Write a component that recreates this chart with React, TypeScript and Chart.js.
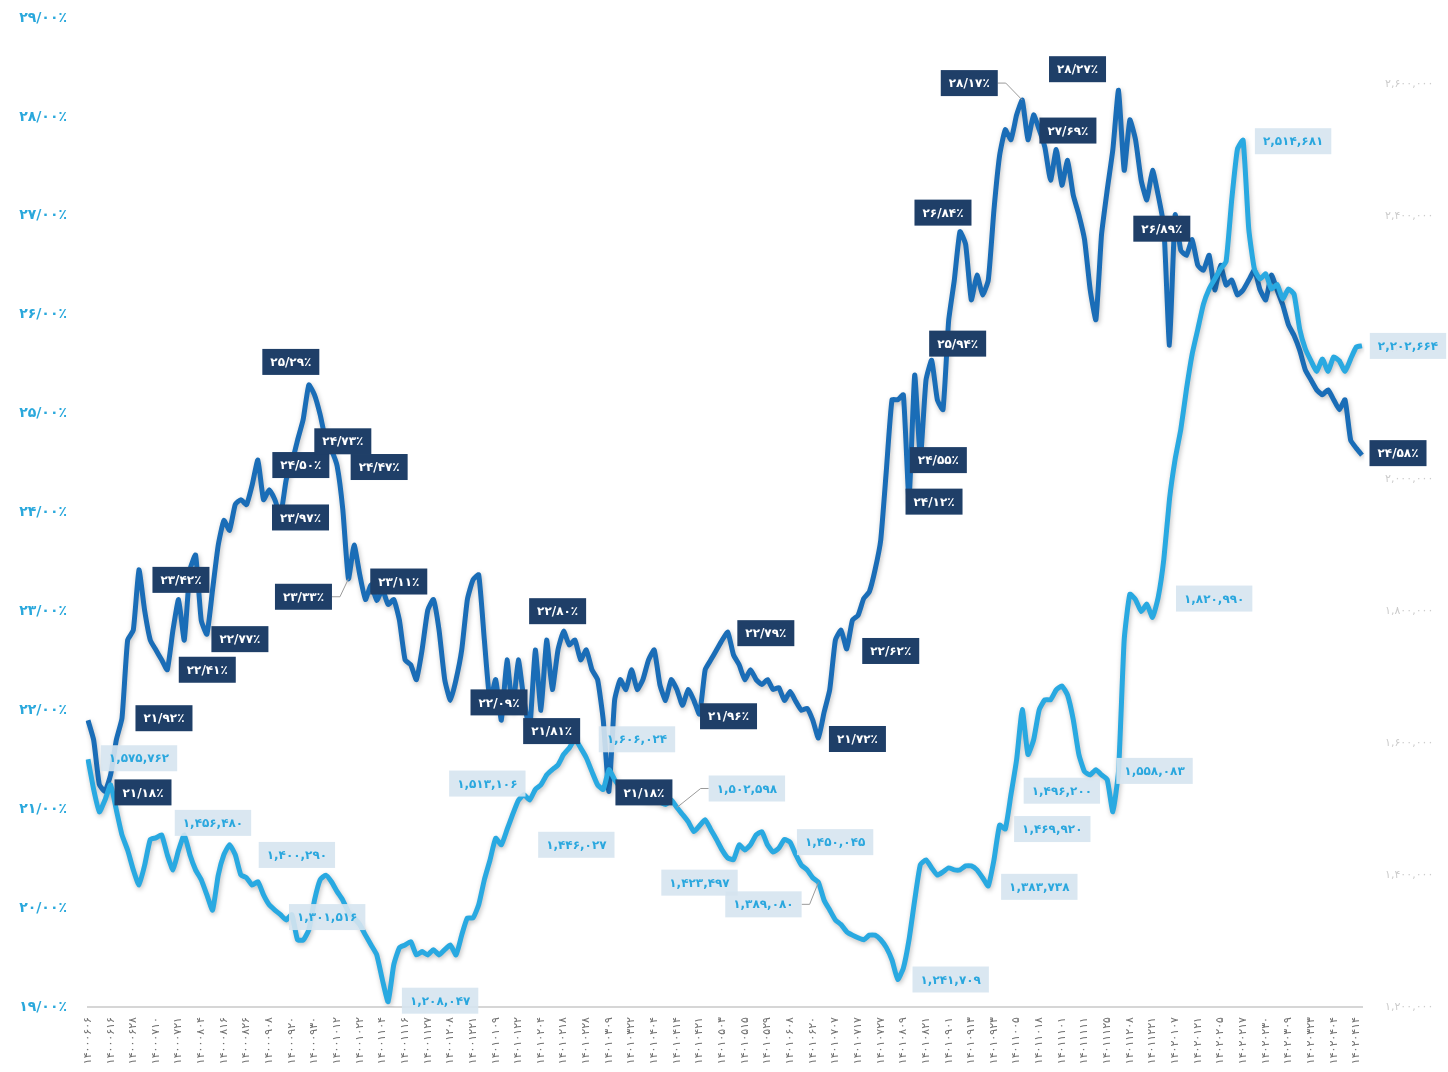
import React, { useEffect, useRef } from 'react';
import { Chart, registerables } from 'chart.js';
Chart.register(...registerables);

const tickDates: string[] = [
  '۱۴۰۰۰۶۰۶','۱۴۰۰۰۶۱۶','۱۴۰۰۰۶۲۸','۱۴۰۰۰۷۱۰','۱۴۰۰۰۷۲۱','۱۴۰۰۰۸۰۴','۱۴۰۰۰۸۱۶','۱۴۰۰۰۸۲۶','۱۴۰۰۰۹۰۸','۱۴۰۰۰۹۲۰',
  '۱۴۰۰۰۹۳۰','۱۴۰۰۱۰۱۲','۱۴۰۰۱۰۲۲','۱۴۰۰۱۱۰۴','۱۴۰۰۱۱۱۶','۱۴۰۰۱۱۲۷','۱۴۰۰۱۲۰۸','۱۴۰۰۱۲۲۱','۱۴۰۱۰۱۰۹','۱۴۰۱۰۱۲۲',
  '۱۴۰۱۰۲۰۴','۱۴۰۱۰۲۱۸','۱۴۰۱۰۲۲۸','۱۴۰۱۰۳۰۹','۱۴۰۱۰۳۲۲','۱۴۰۱۰۴۰۴','۱۴۰۱۰۴۱۴','۱۴۰۱۰۴۲۱','۱۴۰۱۰۵۰۳','۱۴۰۱۰۵۱۵',
  '۱۴۰۱۰۵۲۹','۱۴۰۱۰۶۰۸','۱۴۰۱۰۶۲۰','۱۴۰۱۰۷۰۷','۱۴۰۱۰۷۱۷','۱۴۰۱۰۷۲۷','۱۴۰۱۰۸۰۹','۱۴۰۱۰۸۲۱','۱۴۰۱۰۹۰۱',
  '۱۴۰۱۰۹۱۳','۱۴۰۱۰۹۲۳','۱۴۰۱۱۰۰۵','۱۴۰۱۱۰۱۸','۱۴۰۱۱۱۰۱','۱۴۰۱۱۱۱۱','۱۴۰۱۱۱۲۵','۱۴۰۱۱۲۰۸','۱۴۰۱۱۲۲۱',
  '۱۴۰۲۰۱۰۷','۱۴۰۲۰۱۲۱','۱۴۰۲۰۲۰۵','۱۴۰۲۰۲۱۷','۱۴۰۲۰۲۳۰','۱۴۰۲۰۳۰۹','۱۴۰۲۰۳۲۳','۱۴۰۲۰۴۰۴','۱۴۰۲۰۴۱۴'
];
const POINTS_PER_TICK = 4;

const leftTicks: number[] = [19, 20, 21, 22, 23, 24, 25, 26, 27, 28, 29];
const rightTicks: number[] = [1200000, 1400000, 1600000, 1800000, 2000000, 2200000, 2400000, 2600000];

// percentage series (left axis)
const pctSeries: number[] = [
  21.90,21.70,21.25,21.18,21.35,21.70,21.92,22.71,22.81,23.42,
  23.01,22.71,22.61,22.51,22.41,22.81,23.12,22.71,23.42,23.57,
  22.91,22.77,23.22,23.67,23.92,23.82,24.08,24.13,24.08,24.28,
  24.53,24.13,24.23,24.13,23.97,24.33,24.50,24.73,24.94,25.29,
  25.19,24.99,24.73,24.63,24.47,24.03,23.33,23.67,23.37,23.12,
  23.27,23.11,23.22,23.07,23.12,22.91,22.51,22.46,22.31,22.61,
  23.01,23.12,22.81,22.31,22.10,22.31,22.61,23.12,23.32,23.37,
  22.71,22.09,22.31,21.90,22.51,22.00,22.51,22.10,21.81,22.61,
  22.00,22.71,22.21,22.61,22.80,22.66,22.71,22.51,22.61,22.41,
  22.31,21.90,21.18,22.10,22.31,22.21,22.41,22.21,22.31,22.51,
  22.61,22.26,22.10,22.31,22.21,22.05,22.21,22.10,21.96,22.41,
  22.51,22.61,22.71,22.79,22.56,22.46,22.31,22.41,22.31,22.26,
  22.31,22.21,22.23,22.10,22.19,22.09,22.00,22.02,21.90,21.72,
  21.98,22.21,22.71,22.81,22.62,22.91,22.96,23.13,23.20,23.42,
  23.72,24.43,25.14,25.14,25.19,24.12,25.39,24.55,25.34,25.54,
  25.14,25.04,25.94,26.35,26.84,26.71,26.15,26.40,26.20,26.35,
  27.06,27.61,27.87,27.77,28.02,28.17,27.77,28.02,27.87,27.69,
  27.36,27.67,27.31,27.56,27.21,27.01,26.76,26.25,25.95,26.81,
  27.26,27.67,28.27,27.46,27.97,27.77,27.36,27.16,27.46,27.21,
  26.89,25.69,27.01,26.65,26.60,26.76,26.50,26.45,26.60,26.25,
  26.50,26.30,26.35,26.20,26.25,26.35,26.45,26.25,26.15,26.40,
  26.25,26.10,25.90,25.79,25.64,25.44,25.34,25.24,25.19,25.24,
  25.14,25.04,25.14,24.73,24.65,24.58
];

// value series (right axis)
const valSeries: number[] = [
  1575762,1530000,1496000,1514000,1537000,1499000,1461000,1438000,1408000,1385000,
  1415000,1454000,1456480,1461000,1431000,1408000,1438000,1461000,1431000,1408000,
  1393000,1370000,1347000,1400000,1431000,1446000,1431000,1400290,1396000,1385000,
  1390000,1370000,1355000,1347000,1340000,1332000,1340000,1302000,1301516,1317000,
  1362000,1393000,1400000,1390000,1375000,1362000,1344000,1335000,1325000,1309000,
  1294000,1279000,1241000,1208047,1264000,1290000,1294000,1299000,1279000,1284000,
  1279000,1287000,1279000,1287000,1294000,1279000,1309000,1335000,1335000,1355000,
  1393000,1423000,1456000,1446027,1469000,1492000,1513106,1522000,1514000,1530000,
  1537000,1552000,1560000,1567000,1583000,1593000,1606024,1593000,1578000,1557000,
  1537000,1530000,1560000,1545000,1534000,1530000,1527000,1520000,1517000,1514000,
  1514000,1511000,1507000,1514000,1502598,1492000,1481000,1466000,1475000,1484000,
  1469000,1454000,1438000,1426000,1423497,1446000,1438000,1446000,1461000,1466000,
  1446000,1435000,1441000,1454000,1450045,1431000,1415000,1408000,1396000,1389080,
  1362000,1347000,1332000,1325000,1314000,1309000,1305000,1302000,1309000,1309000,
  1302000,1290000,1271000,1241709,1259000,1302000,1362000,1416000,1423000,1411000,
  1400000,1405000,1411000,1408000,1408000,1414000,1414000,1408000,1396000,1383738,
  1423000,1476000,1469920,1522000,1575000,1651000,1583000,1605000,1651000,1666000,
  1666000,1681000,1687000,1673000,1636000,1583000,1557000,1552000,1560000,1552000,
  1545000,1496200,1558083,1757000,1826000,1818000,1800000,1811000,1791000,1820990,
  1879000,1970000,2031000,2076000,2137000,2190000,2228000,2266000,2289000,2304000,
  2319000,2331000,2425000,2501000,2514681,2380000,2319000,2304000,2312000,2289000,
  2296000,2274000,2289000,2281000,2228000,2198000,2180000,2164000,2183000,2164000,
  2186000,2180000,2164000,2183000,2201000,2202664
];

// annotated points: [index, boxOffsetX, boxOffsetY, leaderLine]
const pctNotes: number[][] = [
  [3,38,1,0],[6,42,0,0],[9,42,10,0],[14,40,0,0],[21,33,5,0],[34,20,2,0],[36,9,2,0],[39,-18,-23,0],
  [42,17,1,0],[44,42,1,0],[46,-45,18,1],[51,22,-19,0],[71,9,1,0],[78,22,2,0],[84,-6,-20,0],[92,35,1,0],
  [108,29,2,0],[113,38,1,0],[129,39,1,0],[134,44,2,0],[145,25,1,0],[147,18,2,0],[152,9,23,0],[154,-17,-19,0],
  [165,-53,-17,1],[169,23,-17,0],[182,-41,-21,0],[190,-2,2,0],[225,36,-2,0]
];
const valNotes: number[][] = [
  [0,51,-1,0],[12,57,-15,0],[27,56,-20,0],[38,24,-23,0],[53,52,-1,0],[76,-31,-17,0],[73,75,0,0],
  [86,62,0,0],[104,70,-19,1],[114,-34,23,0],[124,45,0,0],[129,-55,22,1],[143,53,0,0],[181,-51,-21,0],
  [162,47,0,0],[159,51,1,0],[182,36,0,0],[189,56,1,0],[204,50,1,0],[225,46,0,0]
];

const FA = '۰۱۲۳۴۵۶۷۸۹';
const fa = (s: string) => s.replace(/[0-9]/g, (d) => FA[+d]);
const fmtPct = (v: number) => fa(v.toFixed(2)).replace('.', '/') + '٪';
const fmtVal = (v: number) => fa(Math.round(v).toLocaleString('en-US'));

const FONT = '"DejaVu Sans", "Noto Sans", sans-serif';

export default function App() {
  const ref = useRef<HTMLCanvasElement | null>(null);
  useEffect(() => {
    if (!ref.current) return;
    const labels = pctSeries.map((_, i) => (i % POINTS_PER_TICK === 0 ? tickDates[i / POINTS_PER_TICK] ?? '' : ''));

    const shadowPlugin = {
      id: 'lineShadow',
      beforeDatasetDraw(chart: any) {
        const ctx = chart.ctx;
        ctx.save();
        ctx.shadowColor = 'rgba(0,0,0,0.25)';
        ctx.shadowBlur = 5;
        ctx.shadowOffsetX = 1;
        ctx.shadowOffsetY = 2;
      },
      afterDatasetDraw(chart: any) {
        chart.ctx.restore();
      },
    };

    const notesPlugin = {
      id: 'notes',
      afterDraw(chart: any) {
        const ctx = chart.ctx as CanvasRenderingContext2D;
        ctx.save();
        ctx.font = `bold 12px ${FONT}`;
        ctx.textAlign = 'center';
        ctx.textBaseline = 'middle';
        const draw = (dsIndex: number, notes: number[][], values: number[], fmt: (v: number) => string, bg: string, fg: string, pad: number) => {
          const meta = chart.getDatasetMeta(dsIndex);
          for (const [idx, dx, dy, leader] of notes) {
            const pt = meta.data[idx];
            if (!pt) continue;
            const text = fmt(values[idx]);
            const w = ctx.measureText(text).width + pad;
            const h = 26;
            const bx = pt.x + dx;
            const by = pt.y + dy;
            if (leader) {
              const right = pt.x > bx;
              const sx = right ? bx + w / 2 : bx - w / 2;
              const mx = right ? sx + 8 : sx - 8;
              ctx.strokeStyle = '#9a9a9a';
              ctx.lineWidth = 1;
              ctx.beginPath();
              ctx.moveTo(sx, by);
              ctx.lineTo(mx, by);
              ctx.lineTo(pt.x, pt.y);
              ctx.stroke();
            }
            ctx.fillStyle = bg;
            ctx.fillRect(bx - w / 2, by - h / 2, w, h);
            ctx.fillStyle = fg;
            ctx.fillText(text, bx, by + 1);
          }
        };
        draw(0, valNotes, valSeries, fmtVal, 'rgba(214,228,240,0.9)', '#2aa7de', 16);
        draw(1, pctNotes, pctSeries, fmtPct, '#1f3f68', '#ffffff', 16);
        ctx.restore();
      },
    };

    const noVPad = (s: any, w: number) => {
      s.width = w;
      s.paddingTop = 0;
      s.paddingBottom = 0;
    };

    const chart = new Chart(ref.current, {
      type: 'line',
      data: {
        labels,
        datasets: [
          {
            label: 'value',
            data: valSeries,
            yAxisID: 'y1',
            borderColor: '#29a9e1',
            borderWidth: 5,
            pointRadius: 0,
            tension: 0.15,
            fill: false,
          },
          {
            label: 'percent',
            data: pctSeries,
            yAxisID: 'y',
            borderColor: '#1a6db7',
            borderWidth: 5,
            pointRadius: 0,
            tension: 0.15,
            fill: false,
          },
        ],
      },
      options: {
        responsive: true,
        maintainAspectRatio: false,
        animation: false,
        layout: { padding: { top: 18, left: 0, right: 0, bottom: 0 } },
        plugins: { legend: { display: false }, tooltip: { enabled: false } },
        scales: {
          x: {
            type: 'category',
            grid: { display: false, drawTicks: false },
            border: { display: true, color: '#d6d6d6', width: 2 },
            ticks: {
              autoSkip: false,
              maxRotation: 90,
              minRotation: 90,
              padding: 10,
              color: '#707070',
              font: { size: 11, family: FONT },
            },
            afterFit: (s: any) => { s.height = 65; },
          },
          y: {
            position: 'left',
            min: 19,
            max: 29,
            grid: { display: false, drawTicks: false },
            border: { display: false },
            afterBuildTicks: (s: any) => { s.ticks = leftTicks.map((v) => ({ value: v })); },
            ticks: {
              padding: 21,
              color: '#2aa8dc',
              font: { size: 14, weight: 'bold', family: FONT },
              callback: (v: any) => fmtPct(Number(v)),
            },
            afterFit: (s: any) => noVPad(s, 88),
          },
          y1: {
            position: 'right',
            min: 1200000,
            max: 2700000,
            grid: { display: false, drawTicks: false },
            border: { display: false },
            afterBuildTicks: (s: any) => { s.ticks = rightTicks.map((v) => ({ value: v })); },
            ticks: {
              autoSkip: false,
              padding: 23,
              color: '#cccccc',
              font: { size: 11, family: FONT },
              callback: (v: any) => fmtVal(Number(v)),
            },
            afterFit: (s: any) => noVPad(s, 86),
          },
        },
      } as any,
      plugins: [shadowPlugin, notesPlugin],
    });
    return () => chart.destroy();
  }, []);

  return (
    <div style={{ position: 'absolute', left: 0, top: 0, width: 1448, height: 1072, background: '#ffffff' }}>
      <canvas ref={ref} />
    </div>
  );
}
